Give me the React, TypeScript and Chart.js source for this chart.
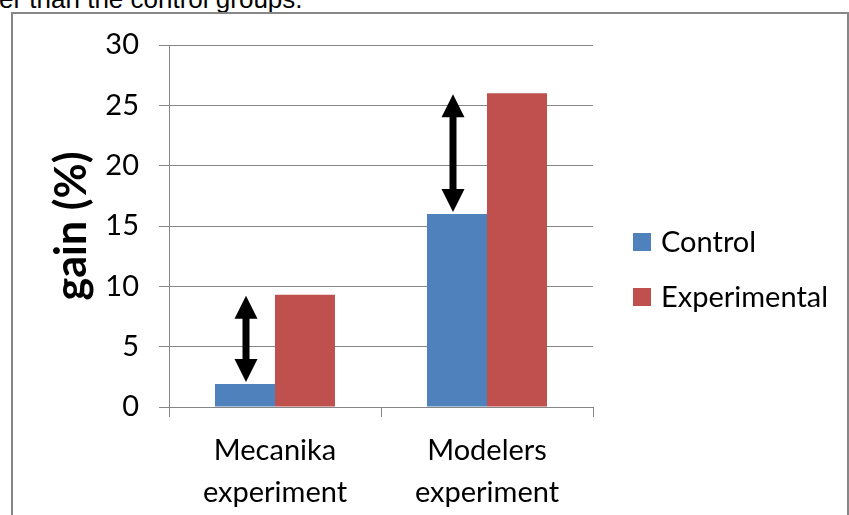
import React, { useEffect, useRef } from "react";
import { Chart, registerables } from "chart.js";

Chart.register(...registerables);

const categories: string[][] = [
  ["Mecanika", "experiment"],
  ["Modelers", "experiment"],
];
const seriesNames = ["Control", "Experimental"];
const controlValues = [1.9, 16];
const experimentalValues = [9.3, 26];
const yTicks = [0, 5, 10, 15, 20, 25, 30];
const yTitle = "gain (%)";
const captionText = "er than the control groups.";

const BLUE = "#4F81BD";
const RED = "#C0504D";
const GRID = "#868686";
const FONT = "Lato";
const FS = 29;

const arrowPlugin = {
  id: "gapArrows",
  afterDatasetsDraw(chart: any) {
    const ctx = chart.ctx;
    const y = chart.scales.y;
    const meta = chart.getDatasetMeta(0);
    ctx.save();
    ctx.fillStyle = "#000";
    controlValues.forEach((cv, i) => {
      const x = meta.data[i].x + (i === 0 ? 1 : -4);
      const top = y.getPixelForValue(experimentalValues[i]) + 1;
      const bot = y.getPixelForValue(cv) - 2;
      const hw = 11.5;
      const hl = 23;
      const sw = 3.5;
      ctx.beginPath();
      ctx.moveTo(x, top);
      ctx.lineTo(x + hw, top + hl);
      ctx.lineTo(x + sw, top + hl);
      ctx.lineTo(x + sw, bot - hl);
      ctx.lineTo(x + hw, bot - hl);
      ctx.lineTo(x, bot);
      ctx.lineTo(x - hw, bot - hl);
      ctx.lineTo(x - sw, bot - hl);
      ctx.lineTo(x - sw, top + hl);
      ctx.lineTo(x - hw, top + hl);
      ctx.closePath();
      ctx.fill();
    });
    ctx.restore();
  },
};

const legendPlugin = {
  id: "sideLegend",
  afterDraw(chart: any) {
    const ctx = chart.ctx;
    const area = chart.chartArea;
    const colors = [BLUE, RED];
    ctx.save();
    ctx.font = `${FS}px ${FONT}`;
    ctx.textBaseline = "middle";
    ctx.textAlign = "left";
    seriesNames.forEach((name, i) => {
      const cy = area.top + 197 + i * 55;
      ctx.fillStyle = colors[i];
      ctx.fillRect(area.right + 40, cy - 9, 18, 18);
      ctx.fillStyle = "#000";
      ctx.fillText(name, area.right + 68, cy + 1);
    });
    ctx.restore();
  },
};

export default function App() {
  const canvasRef = useRef<HTMLCanvasElement | null>(null);

  useEffect(() => {
    if (!canvasRef.current) return;
    const chart = new Chart(canvasRef.current, {
      type: "bar",
      data: {
        labels: categories,
        datasets: [
          {
            label: seriesNames[0],
            data: controlValues,
            backgroundColor: BLUE,
            categoryPercentage: 0.566,
            barPercentage: 1,
          },
          {
            label: seriesNames[1],
            data: experimentalValues,
            backgroundColor: RED,
            categoryPercentage: 0.566,
            barPercentage: 1,
          },
        ],
      },
      plugins: [arrowPlugin, legendPlugin],
      options: {
        animation: false,
        responsive: false,
        maintainAspectRatio: false,
        layout: { padding: { left: 0, top: 45, right: 256, bottom: 0 } },
        plugins: {
          legend: { display: false },
          tooltip: { enabled: false },
        },
        scales: {
          x: {
            offset: true,
            grid: {
              offset: true,
              drawOnChartArea: false,
              drawTicks: true,
              tickLength: 10,
              color: GRID,
            },
            border: { color: GRID },
            ticks: {
              color: "#000",
              font: { family: FONT, size: FS, lineHeight: 42 / FS },
              padding: 13,
              maxRotation: 0,
            },
            afterFit: (s: any) => {
              s.height = 108;
            },
          },
          y: {
            min: 0,
            max: 30,
            afterBuildTicks: (s: any) => {
              s.ticks = yTicks.map((v) => ({ value: v }));
            },
            grid: { color: GRID, tickLength: 10 },
            border: { color: GRID },
            ticks: {
              color: "#000",
              font: { family: FONT, size: FS },
              padding: 20,
            },
            title: {
              display: true,
              text: yTitle,
              color: "#000",
              font: { family: FONT, size: 43, weight: "bold" },
              padding: { top: 46, bottom: 0 },
            },
            afterFit: (s: any) => {
              s.width = 169;
            },
          },
        },
      },
    } as any);
    return () => chart.destroy();
  }, []);

  return (
    <div
      style={{
        position: "fixed",
        left: 0,
        top: 0,
        width: 849,
        height: 515,
        overflow: "hidden",
        background: "#fff",
      }}
    >
      <div
        style={{
          position: "absolute",
          left: -1,
          top: -14,
          fontFamily: "Liberation Sans, Arial, sans-serif",
          fontSize: 26,
          lineHeight: "26px",
          color: "#000",
          whiteSpace: "nowrap",
        }}
      >
        {captionText}
      </div>
      <div
        style={{
          position: "absolute",
          left: 11,
          top: 12,
          width: 834,
          height: 600,
          border: "2px solid #878787",
          boxSizing: "content-box",
        }}
      />
      <canvas
        ref={canvasRef}
        width={849}
        height={515}
        style={{ position: "absolute", left: 0, top: 0, width: 849, height: 515 }}
      />
    </div>
  );
}
